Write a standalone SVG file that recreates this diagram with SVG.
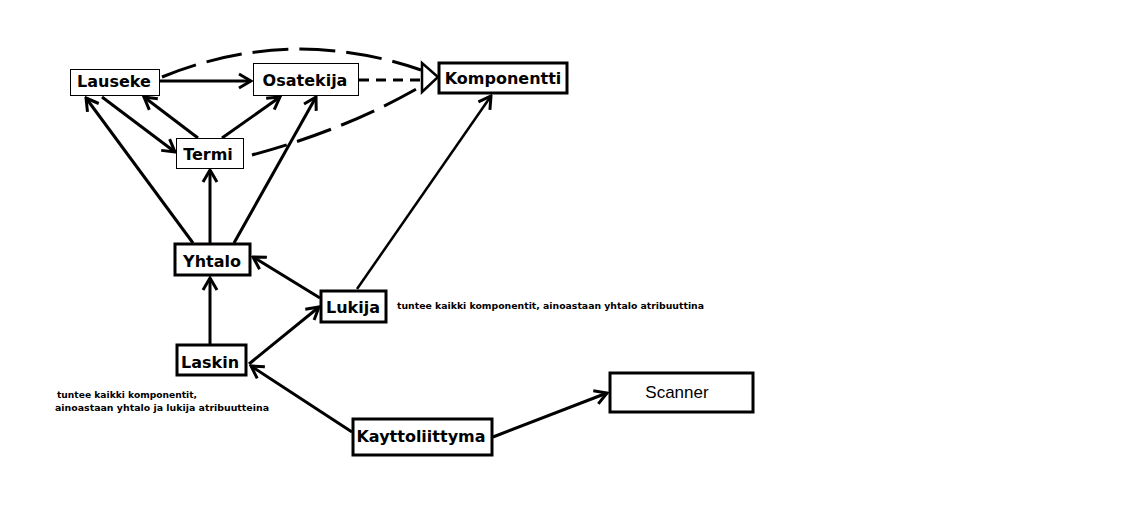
<svg xmlns="http://www.w3.org/2000/svg" width="1143" height="507" viewBox="0 0 1143 507">
<style>
.bg{fill:#fff}
.thin{fill:#fff;stroke:#000;stroke-width:1}
.thick{fill:#fff;stroke:#000;stroke-width:3}
.lbl{font-family:"DejaVu Sans",sans-serif;font-weight:bold;font-size:16px;fill:#000;text-anchor:middle}
.reg{font-family:"Liberation Sans",Arial,sans-serif;font-size:17px;fill:#000;text-anchor:middle}
.note{font-family:"DejaVu Sans",sans-serif;font-weight:bold;font-size:9.5px;fill:#000}
.c{fill:none;stroke:#000;stroke-width:3}
.c2{fill:none;stroke:#000;stroke-width:2.5}
.d1{fill:none;stroke:#000;stroke-width:3;stroke-dasharray:10 7}
.d2{fill:none;stroke:#000;stroke-width:3;stroke-dasharray:36 11}
</style>
<defs>
<marker id="arr" markerUnits="userSpaceOnUse" viewBox="-15 -10 17 20" refX="0" refY="0" markerWidth="17" markerHeight="20" orient="auto">
<path d="M-12,-7 L0,0 L-12,7" fill="none" stroke="#000" stroke-width="3"/>
</marker>
</defs>
<rect class="bg" x="0" y="0" width="1143" height="507"/>
<g id="connectors">
<path class="c" d="M160,81 L251,81" marker-end="url(#arr)"/>
<path class="d1" d="M359,80 L422,80"/>
<path class="d2" d="M162,77 Q290,25 421,70"/>
<path class="d2" d="M252,155 Q345,130 420,87"/>
<path class="c" d="M102,97 L175,152" marker-end="url(#arr)"/>
<path class="c" d="M198,138 L144,97" marker-end="url(#arr)"/>
<path class="c" d="M222,138 L280,97" marker-end="url(#arr)"/>
<path class="c" d="M193,243 L86,98" marker-end="url(#arr)"/>
<path class="c" d="M210,243 L210,170" marker-end="url(#arr)"/>
<path class="c" d="M234,243 L316,97" marker-end="url(#arr)"/>
<path class="c" d="M210,344 L210,278" marker-end="url(#arr)"/>
<path class="c" d="M320,298 L253,257" marker-end="url(#arr)"/>
<path class="c" d="M249,364 L319,307" marker-end="url(#arr)"/>
<path class="c2" d="M357,289 L491,96" marker-end="url(#arr)"/>
<path class="c" d="M352,432 L251,366" marker-end="url(#arr)"/>
<path class="c" d="M493,437 L607,393" marker-end="url(#arr)"/>
<polygon points="422,63 422,92 438,77" fill="#fff" stroke="#000" stroke-width="2.5"/>
</g>
<g id="lauseke">
<rect class="thin" x="70.5" y="69.5" width="89" height="26"/>
<text class="lbl" x="114" y="87">Lauseke</text>
</g>
<g id="osatekija">
<rect class="thin" x="253.5" y="63.5" width="105" height="32"/>
<text class="lbl" x="305" y="86">Osatekija</text>
</g>
<g id="komponentti">
<rect class="thick" x="439" y="63" width="128" height="30"/>
<text class="lbl" x="503" y="84">Komponentti</text>
</g>
<g id="termi">
<rect class="thin" x="176.5" y="138.5" width="67" height="30"/>
<text class="lbl" x="208" y="160">Termi</text>
</g>
<g id="yhtalo">
<rect class="thick" x="175" y="244" width="75" height="31"/>
<text class="lbl" x="212" y="267">Yhtalo</text>
</g>
<g id="laskin">
<rect class="thick" x="177" y="345" width="69" height="30"/>
<text class="lbl" x="210" y="368">Laskin</text>
</g>
<g id="lukija">
<rect class="thick" x="321" y="291" width="65" height="31"/>
<text class="lbl" x="353" y="313">Lukija</text>
</g>
<g id="kayttoliittyma">
<rect class="thick" x="353" y="419" width="139" height="36"/>
<text class="lbl" x="421" y="442">Kayttoliittyma</text>
</g>
<g id="scanner">
<rect class="thick" x="610" y="373" width="143" height="39"/>
<text class="reg" x="677" y="398">Scanner</text>
</g>
<g id="notes">
<text class="note" x="397" y="309" textLength="307" lengthAdjust="spacingAndGlyphs">tuntee kaikki komponentit, ainoastaan yhtalo atribuuttina</text>
<text class="note" x="57" y="398" textLength="140" lengthAdjust="spacingAndGlyphs">tuntee kaikki komponentit,</text>
<text class="note" x="55" y="411" textLength="214" lengthAdjust="spacingAndGlyphs">ainoastaan yhtalo ja lukija atribuutteina</text>
</g>
</svg>
